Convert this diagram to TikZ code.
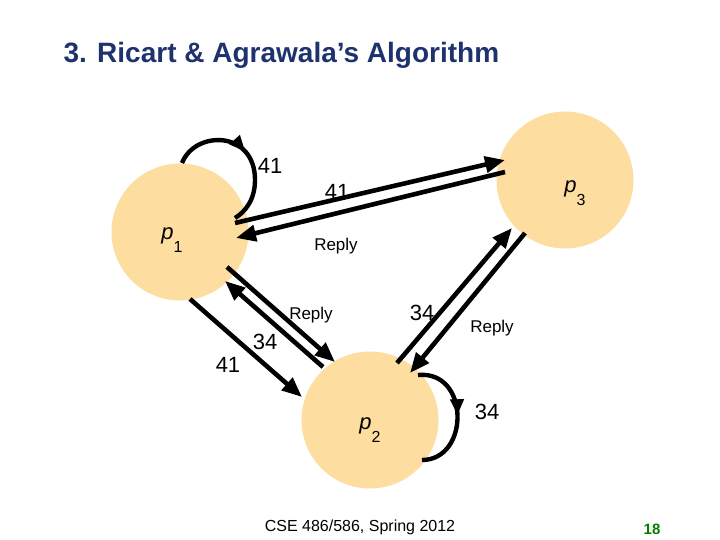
\documentclass[tikz,border=0pt]{standalone}
\usepackage{fontspec}
\setmainfont{Liberation Sans}
\usetikzlibrary{arrows.meta,decorations.markings}
\definecolor{procfill}{RGB}{253,222,160}
\definecolor{titleblue}{RGB}{30,50,110}
\definecolor{pagegreen}{RGB}{0,128,0}
\tikzset{
    proc/.style={circle, fill=procfill, minimum size=137pt, inner sep=0pt},
    msg/.style={line width=4.6pt, -{Triangle[length=20pt,width=16pt]}},
    loopmsg/.style={line width=4.4pt, decoration={markings,
        mark=at position 0.5 with {\arrow{Triangle[length=16pt,width=13pt]}}}, postaction={decorate}},
    lbl/.style={font=\fontsize{22}{22}\selectfont, inner sep=0pt},
    rlbl/.style={font=\fontsize{17}{17}\selectfont, inner sep=0pt}
}
\begin{document}
\begin{tikzpicture}[x=1pt,y=-1pt]
    \useasboundingbox (0,0) rectangle (720,540);
    \node[anchor=west, font=\bfseries\fontsize{28}{28}\selectfont, text=titleblue] (title) at (60,55) {3. Ricart \& Agrawala’s Algorithm};

    % processes
    \node[proc] (p1) at (180,232) {};
    \node[proc] (p3) at (565,180) {};
    \node[proc] (p2) at (370,420) {};
    \node[lbl] (p1t) at (172,240) {\itshape p\raisebox{-13pt}{\upshape\fontsize{16}{16}\selectfont 1}};
    \node[lbl] (p3t) at (575,193) {\itshape p\raisebox{-13pt}{\upshape\fontsize{16}{16}\selectfont 3}};
    \node[lbl] (p2t) at (370,430) {\itshape p\raisebox{-13pt}{\upshape\fontsize{16}{16}\selectfont 2}};

    % p1 <-> p3
    \draw[msg] (235,223) -- (505,160);
    \draw[msg] (505,172) -- (236,238);
    \node[lbl] (l13) at (337,192) {41};
    \node[rlbl] (r31) at (336,246) {Reply};

    % p1 <-> p2
    \draw[msg] (190,299) -- (302,397);
    \draw[msg] (323,367) -- (225,281);
    \draw[msg] (227,267) -- (335,362);
    \node[lbl] (l12) at (228,365) {41};
    \node[lbl] (l21) at (265,342) {34};
    \node[rlbl] (r12) at (311,315) {Reply};

    % p2 <-> p3
    \draw[msg] (397,363) -- (512,228);
    \draw[msg] (525,233) -- (410,373);
    \node[lbl] (l23) at (422,313) {34};
    \node[rlbl] (r32) at (492,328) {Reply};

    % own requests
    \draw[loopmsg] (182,163) .. controls (195,130) and (255,130) .. (255,180) .. controls (255,200) and (245,212) .. (235,218);
    \node[lbl] (s1) at (270,166) {41};
    \draw[loopmsg] (418,375) .. controls (470,370) and (470,460) .. (422,460);
    \node[lbl] (s2) at (487,412) {34};

    \node[font=\fontsize{16}{16}\selectfont] (foot) at (360,527) {CSE 486/586, Spring 2012};
    \node[font=\rmfamily\bfseries\fontsize{15}{15}\selectfont, text=pagegreen] (page) at (652,529) {18};
\end{tikzpicture}
\end{document}
